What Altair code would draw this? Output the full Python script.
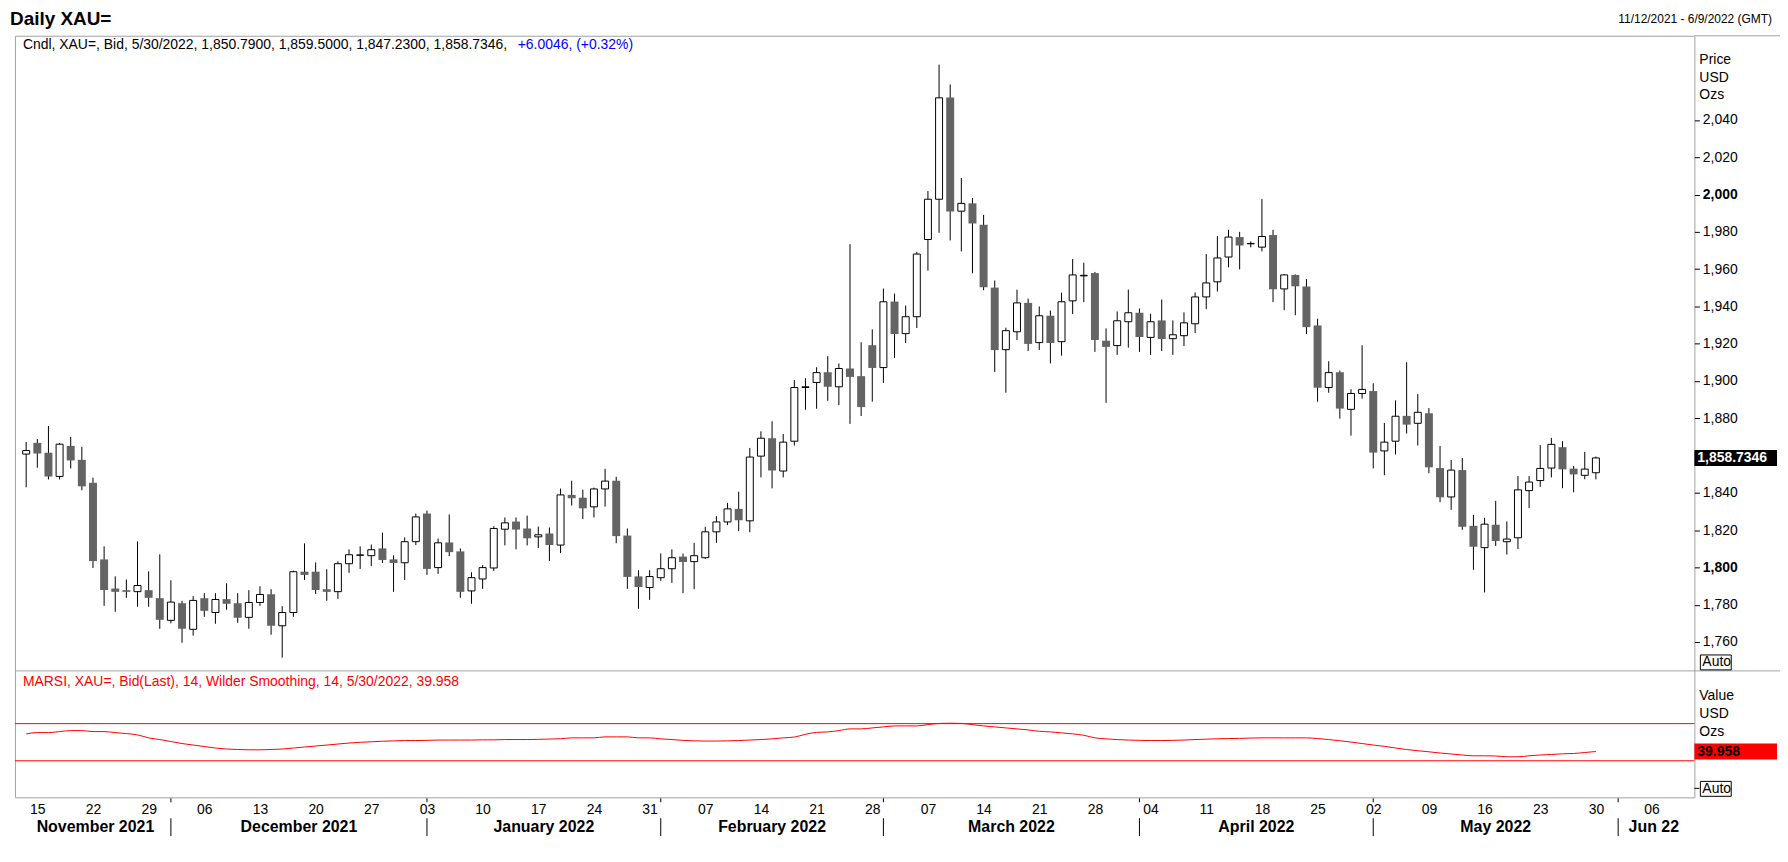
import json
import altair as alt
import pandas as pd

# ---------------- data ----------------
dates = [d for d in pd.bdate_range("2021-11-12", "2022-05-30")]
axis_end = pd.Timestamp("2022-06-09")

opens = [
1860.8,1866.8,1861.5,1848.8,1865.2,1857.7,1845.4,1804.3,1788.7,1787.8,
1787.0,1787.8,1783.5,1771.6,1780.8,1766.8,1783.5,1775.8,1783.0,1780.8,
1773.2,1781.2,1785.6,1768.7,1775.8,1797.7,1797.7,1788.3,1787.0,1802.0,
1806.5,1806.3,1810.2,1804.3,1802.5,1813.8,1828.9,1799.9,1813.4,1808.6,
1787.4,1793.8,1799.7,1820.5,1824.6,1820.9,1816.4,1818.2,1812.0,1838.9,
1837.4,1832.5,1842.1,1846.5,1817.1,1795.2,1789.2,1794.5,1799.3,1805.8,
1803.1,1805.2,1819.1,1824.4,1831.4,1825.0,1859.7,1869.3,1851.7,1867.7,
1896.5,1899.2,1904.7,1896.9,1906.7,1902.6,1919.2,1907.2,1942.6,1925.4,
1934.5,1975.9,1997.5,2052.1,1991.1,1995.3,1983.8,1950.1,1916.8,1926.4,
1941.9,1920.6,1935.0,1921.1,1943.0,1956.4,1957.9,1921.6,1919.0,1931.8,
1936.6,1923.4,1932.5,1922.7,1924.3,1930.7,1945.1,1953.2,1966.5,1977.2,
1973.6,1971.8,1978.3,1949.4,1956.9,1950.7,1929.8,1896.5,1904.7,1884.8,
1893.3,1894.6,1862.5,1867.7,1881.3,1877.3,1882.7,1853.3,1837.8,1852.2,
1822.3,1810.6,1822.9,1813.8,1815.9,1841.2,1846.6,1853.3,1864.5,1853.0,
1849.4,1850.79]

highs = [
1867.3,1868.9,1875.9,1866.8,1870.0,1864.7,1848.1,1811.3,1795.2,1793.5,
1813.9,1797.9,1807.0,1793.1,1782.1,1784.6,1786.2,1786.2,1791.5,1786.2,
1787.8,1789.9,1788.3,1779.2,1798.3,1812.9,1802.7,1799.0,1803.3,1809.7,
1811.3,1812.3,1818.7,1806.5,1816.1,1828.9,1830.5,1815.5,1828.4,1810.2,
1797.4,1801.3,1822.1,1826.8,1826.8,1827.8,1821.9,1821.4,1842.3,1846.5,
1841.7,1842.8,1852.9,1848.6,1820.9,1798.5,1798.5,1807.5,1809.7,1807.4,
1813.2,1821.8,1827.5,1834.6,1840.6,1864.1,1873.0,1878.4,1871.6,1900.5,
1901.5,1907.4,1913.3,1909.4,1973.4,1920.8,1927.7,1949.6,1946.9,1940.5,
1969.3,2001.9,2069.7,2059.1,2008.9,1998.2,1989.1,1953.9,1928.6,1949.0,
1944.2,1940.0,1937.8,1947.4,1965.4,1963.5,1958.5,1928.2,1937.3,1949.0,
1938.9,1936.1,1943.7,1932.5,1936.8,1947.5,1968.1,1977.7,1981.1,1980.0,
1974.9,1997.6,1981.1,1957.4,1957.2,1954.7,1933.4,1910.6,1905.6,1895.6,
1919.2,1898.8,1877.5,1889.6,1910.1,1893.0,1885.5,1865.1,1857.6,1858.7,
1828.2,1826.6,1835.7,1824.7,1849.0,1849.0,1865.6,1869.5,1867.7,1854.4,
1862.0,1859.5]

lows = [
1843.0,1853.5,1847.2,1847.2,1853.1,1841.4,1799.7,1779.4,1776.2,1783.7,
1778.9,1778.9,1767.1,1770.0,1759.6,1763.4,1773.5,1769.8,1777.3,1770.3,
1767.1,1779.4,1763.9,1751.6,1773.5,1793.3,1785.8,1782.1,1783.1,1797.1,
1799.2,1800.8,1802.4,1786.9,1793.3,1812.0,1796.0,1796.5,1806.1,1783.7,
1780.5,1788.5,1798.1,1811.8,1809.7,1811.8,1810.4,1803.4,1807.7,1833.2,
1825.9,1826.8,1832.6,1813.0,1788.5,1777.8,1782.6,1792.8,1791.7,1786.2,
1788.3,1804.6,1813.2,1822.7,1819.5,1818.9,1848.3,1842.4,1848.3,1865.4,
1884.6,1885.1,1889.4,1887.1,1877.0,1881.2,1888.9,1899.0,1912.4,1920.4,
1928.4,1959.2,1979.5,1975.4,1969.5,1957.8,1948.7,1904.9,1893.7,1922.0,
1916.1,1916.6,1909.4,1913.6,1935.9,1942.3,1915.6,1888.3,1914.0,1917.9,
1915.6,1914.0,1916.1,1914.0,1918.8,1925.7,1938.5,1948.0,1961.0,1959.9,
1971.7,1969.5,1942.3,1938.0,1935.3,1925.2,1888.9,1893.7,1879.8,1870.7,
1890.5,1853.1,1849.5,1860.6,1871.8,1865.4,1850.5,1835.0,1830.9,1820.2,
1798.7,1786.6,1811.5,1806.9,1809.9,1831.8,1843.2,1848.3,1842.5,1840.3,
1847.3,1847.23]

closes = [
1862.7,1861.1,1848.8,1866.1,1857.4,1843.5,1803.4,1787.9,1786.9,1786.9,
1790.3,1783.7,1771.9,1781.4,1767.1,1782.3,1776.7,1782.8,1780.5,1773.0,
1781.2,1785.5,1768.7,1775.8,1797.7,1796.0,1787.9,1786.9,1802.0,1806.8,
1806.7,1809.5,1804.0,1802.4,1813.8,1827.1,1799.2,1813.2,1808.2,1786.9,
1794.5,1799.9,1820.9,1823.9,1820.3,1815.7,1817.5,1812.0,1838.9,1837.1,
1831.7,1842.1,1846.3,1816.8,1794.9,1789.5,1795.1,1799.3,1805.2,1802.9,
1806.3,1819.1,1824.4,1831.4,1825.3,1859.2,1869.3,1852.0,1867.2,1896.5,
1896.9,1904.5,1896.9,1906.7,1902.2,1886.0,1907.0,1942.5,1925.2,1934.5,
1968.1,1997.5,2051.9,1990.9,1995.3,1984.5,1950.3,1916.6,1927.0,1941.9,
1919.9,1935.0,1920.4,1942.5,1956.9,1956.7,1922.0,1918.3,1932.3,1936.6,
1923.6,1931.8,1922.5,1924.8,1931.2,1945.1,1952.6,1966.0,1977.2,1972.7,
1973.8,1977.5,1949.2,1956.9,1950.8,1928.9,1896.4,1904.5,1885.2,1893.3,
1895.5,1861.6,1867.2,1881.1,1876.6,1883.2,1853.7,1837.6,1852.2,1821.8,
1811.1,1823.2,1814.2,1815.2,1841.6,1845.8,1853.1,1866.0,1852.6,1849.9,
1852.73,1858.7346]

marsi = [
58.96,60.35,60.35,61.42,62.49,62.49,61.42,61.42,60.35,59.28,
57.88,54.67,52.84,50.70,48.55,46.94,45.34,43.73,42.65,42.12,
41.80,41.80,42.12,42.65,43.73,44.80,45.87,46.94,48.02,49.09,
49.84,50.48,51.02,51.45,51.77,51.77,51.98,52.31,52.31,52.31,
52.31,52.52,52.52,52.84,52.84,52.84,53.06,53.38,53.70,54.67,
54.67,54.67,55.74,55.74,55.74,54.67,54.67,53.59,52.84,51.98,
51.45,51.23,51.23,51.45,51.77,52.31,52.84,53.59,54.67,55.52,
58.53,60.56,61.10,62.49,64.32,64.32,65.39,66.46,67.53,67.53,
67.53,68.93,70.22,70.43,70.22,68.93,67.53,66.46,65.39,64.32,
63.24,61.74,61.10,60.03,58.96,57.45,54.67,53.59,52.84,52.31,
51.98,51.77,51.77,51.98,52.31,52.84,53.27,53.70,53.91,54.13,
54.45,54.67,54.67,54.67,54.67,54.67,53.91,52.84,51.56,50.16,
48.55,46.94,45.55,43.73,42.12,40.83,39.65,38.36,37.29,36.22,
35.36,35.36,35.15,34.29,34.29,35.36,36.22,36.76,37.51,37.83,
38.90,39.958]

rsi_levels = [70, 30]
# 1,860 is covered by the last-price box in the reference, so it is not labelled
price_ticks = [1760, 1780, 1800, 1820, 1840, 1880, 1900, 1920, 1940,
               1960, 1980, 2000, 2020, 2040]
day_tick_idx = [1 + 5 * k for k in range(30)]
day_tick_labels = ["15", "22", "29", "06", "13", "20", "27", "03", "10", "17",
                   "24", "31", "07", "14", "21", "28", "07", "14", "21", "28",
                   "04", "11", "18", "25", "02", "09", "16", "23", "30", "06"]
month_names = ["November 2021", "December 2021", "January 2022", "February 2022",
               "March 2022", "April 2022", "May 2022", "Jun 22"]
month_start_idx = [13, 36, 57, 77, 100, 121, 143]

# ---------------- layout ----------------
W, H = 1687, 765          # plot area (both panels)
MAIN_H = 638              # price panel height
X_DOMAIN = [-0.56, 149.4]
PRICE_DOMAIN = [1744.5, 2085.2]
RSI_DOMAIN = [-9.36, 126.8]
FONT = "Liberation Sans"
FRAME = "#A0A0A8"

df = pd.DataFrame({
    "i": list(range(len(opens))),
    "date": [d.strftime("%Y-%m-%d") for d in dates],
    "open": opens, "high": highs, "low": lows, "close": closes, "rsi": marsi,
})
last = df.iloc[[-1]].reset_index(drop=True)

xscale = alt.Scale(domain=X_DOMAIN, nice=False, zero=False)
xaxis = alt.Axis(values=day_tick_idx,
                 labelExpr=json.dumps(day_tick_labels) + "[(datum.value - 1) / 5]",
                 ticks=True, tickSize=5, tickOpacity=0, domain=False, grid=False,
                 labelPadding=0, labelFontSize=14, labelFont=FONT,
                 labelColor="black", labelFlush=False, title=None)
X = alt.X("i:Q", scale=xscale, axis=xaxis)

pscale = alt.Scale(domain=PRICE_DOMAIN, range=[MAIN_H, 0], nice=False, zero=False)
paxis = alt.Axis(orient="right", values=price_ticks, format=",d", tickSize=5,
                 tickColor="black", tickWidth=1, domain=False, grid=False,
                 labelFontSize=14, labelFont=FONT, labelColor="black",
                 labelPadding=3, labelFlush=False, labelOverlap=False, title=None,
                 labelFontWeight={"condition": {"test": "datum.value % 200 === 0",
                                                "value": "bold"},
                                  "value": "normal"})
rscale = alt.Scale(domain=RSI_DOMAIN, range=[H, MAIN_H], nice=False, zero=False)


def Yp(field):
    return alt.Y(field, scale=pscale, axis=paxis)


def Yr(field):
    return alt.Y(field, scale=rscale, axis=None)


def label(text, x, y, size=14, color="black", weight="normal", align="left"):
    return alt.Chart(pd.DataFrame({"t": [text]})).mark_text(
        align=align, baseline="middle", fontSize=size, font=FONT,
        color=color, fontWeight=weight
    ).encode(x=alt.value(x), y=alt.value(y), text="t:N")


def hline(x1, x2, y, color=FRAME, width=1):
    return alt.Chart(pd.DataFrame({"a": [0]})).mark_rule(
        color=color, strokeWidth=width).encode(
        x=alt.value(x1), x2=alt.value(x2), y=alt.value(y))


def box(x1, x2, y1, y2):
    return alt.Chart(pd.DataFrame({"a": [0]})).mark_rect(
        fill="white", stroke="black", strokeWidth=1).encode(
        x=alt.value(x1), x2=alt.value(x2), y=alt.value(y1), y2=alt.value(y2))


# ---------------- price panel ----------------
wicks = alt.Chart(df).mark_rule(color="black", strokeWidth=1).encode(
    x=X, y=Yp("low:Q"), y2="high:Q")
down = alt.Chart(df).transform_filter("datum.close < datum.open").mark_bar(
    size=8, color="#646464").encode(x=X, y=Yp("open:Q"), y2="close:Q")
up = alt.Chart(df).transform_filter("datum.close >= datum.open").mark_bar(
    size=7, fill="white", stroke="black", strokeWidth=1).encode(
    x=X, y=Yp("open:Q"), y2="close:Q")

last_box = alt.Chart(last).mark_rule(color="black", strokeWidth=16, strokeCap="butt").encode(
    x=alt.value(W), x2=alt.value(W + 83), y=Yp("close:Q"))
last_txt = alt.Chart(last).mark_text(
    align="left", baseline="middle", fontSize=14, font=FONT,
    fontWeight="bold", color="white").encode(
    x=alt.value(W + 3), y=Yp("close:Q"), text=alt.Text("close:Q", format=",.4f"))

o, h, l, c = opens[-1], highs[-1], lows[-1], closes[-1]
chg = c - closes[-2]
pct = chg / closes[-2] * 100
d_last = dates[-1]
d_str = f"{d_last.month}/{d_last.day}/{d_last.year}"
header_black = f"Cndl, XAU=, Bid, {d_str}, {o:,.4f}, {h:,.4f}, {l:,.4f}, {c:,.4f}, "
header_blue = f"{chg:+.4f}, ({pct:+.2f}%)"
d0 = dates[0]
range_txt = (f"{d0.month}/{d0.day}/{d0.year} - "
             f"{axis_end.month}/{axis_end.day}/{axis_end.year} (GMT)")

price_group = alt.layer(
    wicks, down, up,
    hline(W, W + 86, 0),                   # top frame extension
    hline(0, W + 86, MAIN_H),              # panel separator
    last_box, last_txt,
    label("Daily XAU=", -5, -17, size=19, weight="bold"),
    label(range_txt, W + 78, -17, size=12, align="right"),
    label(header_black, 8, 9),
    label(header_blue, 505, 9, color="#0000FF"),
    label("Price", W + 5, 24),
    label("USD", W + 5, 42),
    label("Ozs", W + 5, 60),
    box(W + 6, W + 37, 622, 637),
    label("Auto", W + 8, 629.5),
)

# ---------------- MARSI panel ----------------
rsi_line = alt.Chart(df).mark_line(color="#FF0000", strokeWidth=1,
                                   interpolate="monotone").encode(
    x=X, y=Yr("rsi:Q"))
lv = alt.Chart(pd.DataFrame({"lv": rsi_levels})).mark_rule(
    color="#FF0000", strokeWidth=1).encode(
    x=alt.value(0), x2=alt.value(W), y=Yr("lv:Q"))
rsi_box = alt.Chart(last).mark_rule(color="#FF0000", strokeWidth=16, strokeCap="butt").encode(
    x=alt.value(W), x2=alt.value(W + 83), y=Yr("rsi:Q"))
rsi_txt = alt.Chart(last).mark_text(
    align="left", baseline="middle", fontSize=14, font=FONT,
    fontWeight="bold", color="black").encode(
    x=alt.value(W + 3), y=Yr("rsi:Q"), text=alt.Text("rsi:Q", format=".3f"))

rsi_title = f"MARSI, XAU=, Bid(Last), 14, Wilder Smoothing, 14, {d_str}, {marsi[-1]:.3f}"

rsi_group = alt.layer(
    rsi_line, lv, rsi_box, rsi_txt,
    label(rsi_title, 8, 649, color="#FF0000"),
    label("Value", W + 5, 663),
    label("USD", W + 5, 681),
    label("Ozs", W + 5, 699),
    hline(W, W + 5, 756, color="black"),
    box(W + 6, W + 37, 749, 764),
    label("Auto", W + 8, 756.5),
)

# ---------------- bottom month row ----------------
bounds = [X_DOMAIN[0]] + month_start_idx + [X_DOMAIN[1]]
mdf = pd.DataFrame({
    "i": [(bounds[k] + bounds[k + 1]) / 2 for k in range(len(month_names))],
    "m": month_names,
})
sdf = pd.DataFrame({"i": month_start_idx})
month_txt = alt.Chart(mdf).mark_text(
    align="center", baseline="middle", fontSize=16, font=FONT,
    fontWeight="bold", color="black").encode(
    x=X, y=alt.value(794.5), text="m:N")
month_sep = alt.Chart(sdf).mark_rule(color="black", strokeWidth=1).encode(
    x=X, y=alt.value(786), y2=alt.value(804))
month_tick = alt.Chart(sdf).mark_rule(color="black", strokeWidth=1).encode(
    x=X, y=alt.value(766), y2=alt.value(770))

chart = alt.layer(
    price_group, rsi_group, month_txt, month_sep, month_tick
).resolve_scale(
    y="independent"
).properties(
    width=W, height=H,
    autosize=alt.AutoSizeParams(type="none"),
    padding={"left": 7, "top": 26, "right": 86, "bottom": 41},
).configure(
    font=FONT, background="white"
).configure_view(
    stroke=FRAME, strokeWidth=1
)

chart.save("out.html", embed_options={"renderer": "svg", "actions": False})
